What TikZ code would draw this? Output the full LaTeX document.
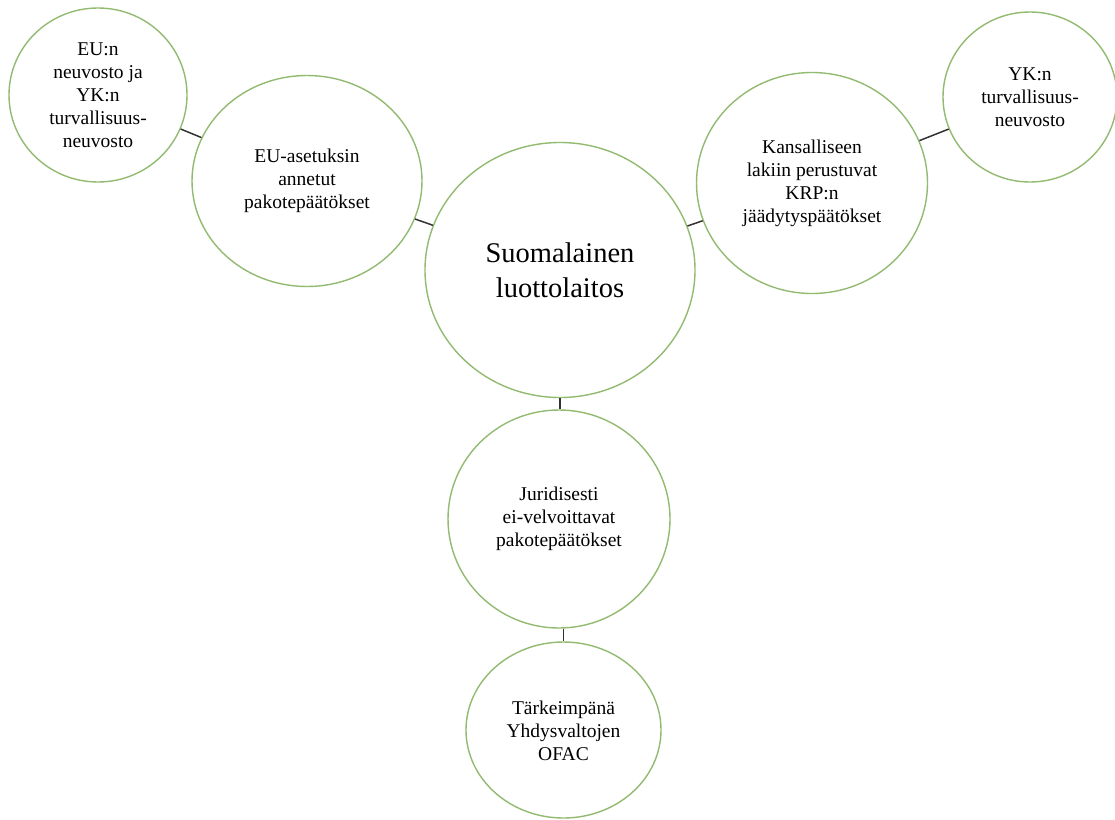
\documentclass[tikz,border=0pt]{standalone}
\usepackage{fontspec}
\setmainfont{Liberation Serif}
\usetikzlibrary{shapes.geometric}
\definecolor{ringgreen}{RGB}{146,186,112}
\definecolor{linkgray}{RGB}{50,50,50}
\tikzset{
  bubble/.style={ellipse, draw=ringgreen, line width=1.4pt, fill=white, inner sep=0pt,
    align=center, text=black, font=\fontsize{19.5}{23}\selectfont},
  hub/.style={bubble, font=\fontsize{28.5}{35}\selectfont},
  link/.style={draw=linkgray, line width=1.5pt}
}
\begin{document}
\begin{tikzpicture}[x=1pt,y=-1pt]
\useasboundingbox (0,0) rectangle (1115,819);
\node[bubble, minimum width=178pt, minimum height=174pt] (eun) at (98,95)
  {EU:n\\neuvosto ja\\YK:n\\turvallisuus-\\neuvosto};
\node[bubble, minimum width=230pt, minimum height=211pt] (euas) at (307,181)
  {EU-asetuksin\\annetut\\pakotepäätökset};
\node[hub, minimum width=270pt, minimum height=255pt] (fin) at (560,270)
  {Suomalainen\\luottolaitos};
\node[bubble, minimum width=231pt, minimum height=221pt] (krp) at (812,183)
  {Kansalliseen\\lakiin perustuvat\\KRP:n\\jäädytyspäätökset};
\node[bubble, minimum width=174pt, minimum height=170pt] (yk) at (1030,97)
  {YK:n\\turvallisuus-\\neuvosto};
\node[bubble, minimum width=222pt, minimum height=218pt] (jur) at (559,519)
  {Juridisesti\\ei-velvoittavat\\pakotepäätökset};
\node[bubble, minimum width=195pt, minimum height=176pt] (ofac) at (563.5,730)
  {\strut Tärkeimpänä\\Yhdysvaltojen\\OFAC};
\draw[link] (eun) -- (euas);
\draw[link] (euas) -- (fin);
\draw[link] (fin) -- (krp);
\draw[link] (krp) -- (yk);
\draw[link] (fin.south) -- (fin.south |- jur.north);
\draw[link] (jur.south -| ofac.north) -- (ofac.north);
\end{tikzpicture}
\end{document}
